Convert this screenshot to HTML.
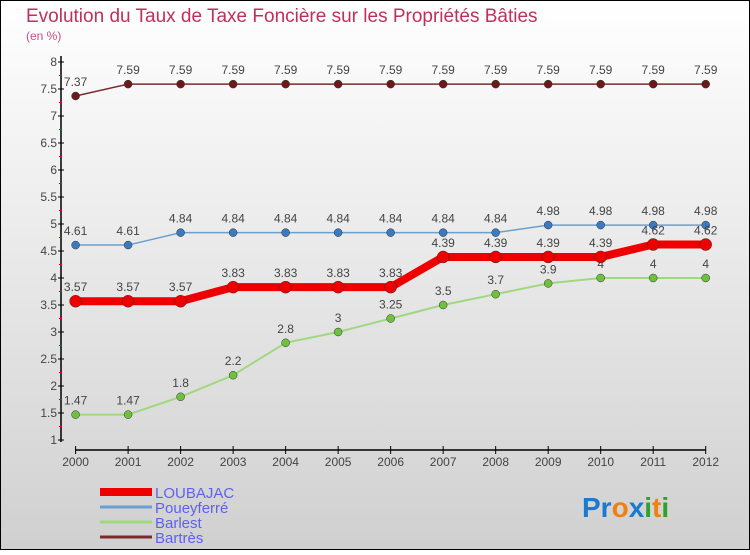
<!DOCTYPE html>
<html><head><meta charset="utf-8">
<style>
body{margin:0;width:750px;height:550px;overflow:hidden;font-family:"Liberation Sans",sans-serif}
svg text{font-family:"Liberation Sans",sans-serif}
</style></head>
<body>
<svg width="750" height="550" xmlns="http://www.w3.org/2000/svg">
<defs><linearGradient id="bg" x1="0" y1="0" x2="0" y2="1"><stop offset="0" stop-color="#ffffff"/><stop offset="1" stop-color="#d0d0d0"/></linearGradient></defs>
<rect x="0.5" y="0.5" width="749" height="549" fill="url(#bg)" stroke="#000"/>
<text x="26" y="22" font-size="19" fill="#c0305a">Evolution du Taux de Taxe Foncière sur les Propriétés Bâties</text>
<text x="26" y="40" font-size="12" fill="#c0508a">(en %)</text>
<g id="axes"></g><g id="series"></g><g id="legend"></g>
<text x="582" y="517" font-size="28" font-weight="bold"><tspan fill="#1a7ad0">Pr</tspan><tspan fill="#f08010">o</tspan><tspan fill="#1a7ad0">x</tspan><tspan fill="#30a030">i</tspan><tspan fill="#f08010">t</tspan><tspan fill="#30a030">i</tspan></text>
</svg>
<script>
const years=[2000,2001,2002,2003,2004,2005,2006,2007,2008,2009,2010,2011,2012];
const loubajac=[3.57,3.57,3.57,3.83,3.83,3.83,3.83,4.39,4.39,4.39,4.39,4.62,4.62];
const poueyferre=[4.61,4.61,4.84,4.84,4.84,4.84,4.84,4.84,4.84,4.98,4.98,4.98,4.98];
const barlest=[1.47,1.47,1.8,2.2,2.8,3,3.25,3.5,3.7,3.9,4,4,4];
const bartres=[7.37,7.59,7.59,7.59,7.59,7.59,7.59,7.59,7.59,7.59,7.59,7.59,7.59];
const yTicks=[1,1.5,2,2.5,3,3.5,4,4.5,5,5.5,6,6.5,7,7.5,8];
const NS="http://www.w3.org/2000/svg";
const X=i=>75.6+i*(705.7-75.6)/(years.length-1);
const Y=v=>440-(v-1)*54;
function mk(t,a,p){const e=document.createElementNS(NS,t);for(const k in a)e.setAttribute(k,a[k]);p.appendChild(e);return e;}
const ax=document.getElementById('axes');
let e=mk('line',{x1:61,y1:56,x2:61,y2:442,stroke:'#000','stroke-width':1.5},ax);


e=mk('line',{x1:75,y1:450,x2:706,y2:450,stroke:'#000','stroke-width':1.5},ax);


yTicks.forEach((v,i)=>{
 mk('line',{x1:58,y1:Y(v),x2:64,y2:Y(v),stroke:'#000'},ax);
 if(i<yTicks.length-1)mk('line',{x1:59,y1:Y(v+0.25),x2:62,y2:Y(v+0.25),stroke:'#e00'},ax);
 const t=mk('text',{x:57,y:Y(v)+4,'font-size':12,fill:'#444','text-anchor':'end'},ax);
 t.textContent=String(v);
 
 
});
years.forEach((y,i)=>{
 mk('line',{x1:X(i),y1:446,x2:X(i),y2:454,stroke:'#000'},ax);
 const t=mk('text',{x:X(i),y:466,'font-size':12,fill:'#444','text-anchor':'middle'},ax);
 t.textContent=String(y);
 
 
});
const sg=document.getElementById('series');
const series=[
 {name:'bartres',d:bartres,c:'#7a2a2a',w:1.5,dot:'#6a1a1a',r:4,label:'Bartrès'},
 {name:'poueyferre',d:poueyferre,c:'#6aa0d0',w:1.5,dot:'#3a7ac0',r:4,label:'Poueyferré'},
 {name:'barlest',d:barlest,c:'#a0d880',w:2,dot:'#70c040',r:4,label:'Barlest'},
 {name:'loubajac',d:loubajac,c:'#ee0000',w:8,dot:'#ee0000',r:6,label:'LOUBAJAC'}
];
series.forEach(s=>{
 const g=mk('g',{},sg);
 
 
 const pl=mk('polyline',{points:s.d.map((v,i)=>X(i)+','+Y(v)).join(' '),fill:'none',stroke:s.c,'stroke-width':s.w},g);
 
 
 s.d.forEach((v,i)=>{
  const c=mk('circle',{cx:X(i),cy:Y(v),r:s.r,fill:s.dot,stroke:'#333','stroke-width':0.5},g);
  
  
  const t=mk('text',{x:X(i),y:Y(v)-10,'font-size':12,fill:'#444','text-anchor':'middle'},g);
  t.textContent=String(v);
  
  
 });
});
const lg=document.getElementById('legend');
const leg=[series[3],series[1],series[2],series[0]];
leg.forEach((s,i)=>{
 const y=492+i*15;
 const l=mk('line',{x1:100,y1:y,x2:152,y2:y,stroke:s.c,'stroke-width':s.name==='loubajac'?8:3},lg);
 
 
 const t=mk('text',{x:155,y:y+6,'font-size':15,fill:'#6060f0'},lg);
 t.textContent=s.label;
 
 
});
</script>
</body></html>
